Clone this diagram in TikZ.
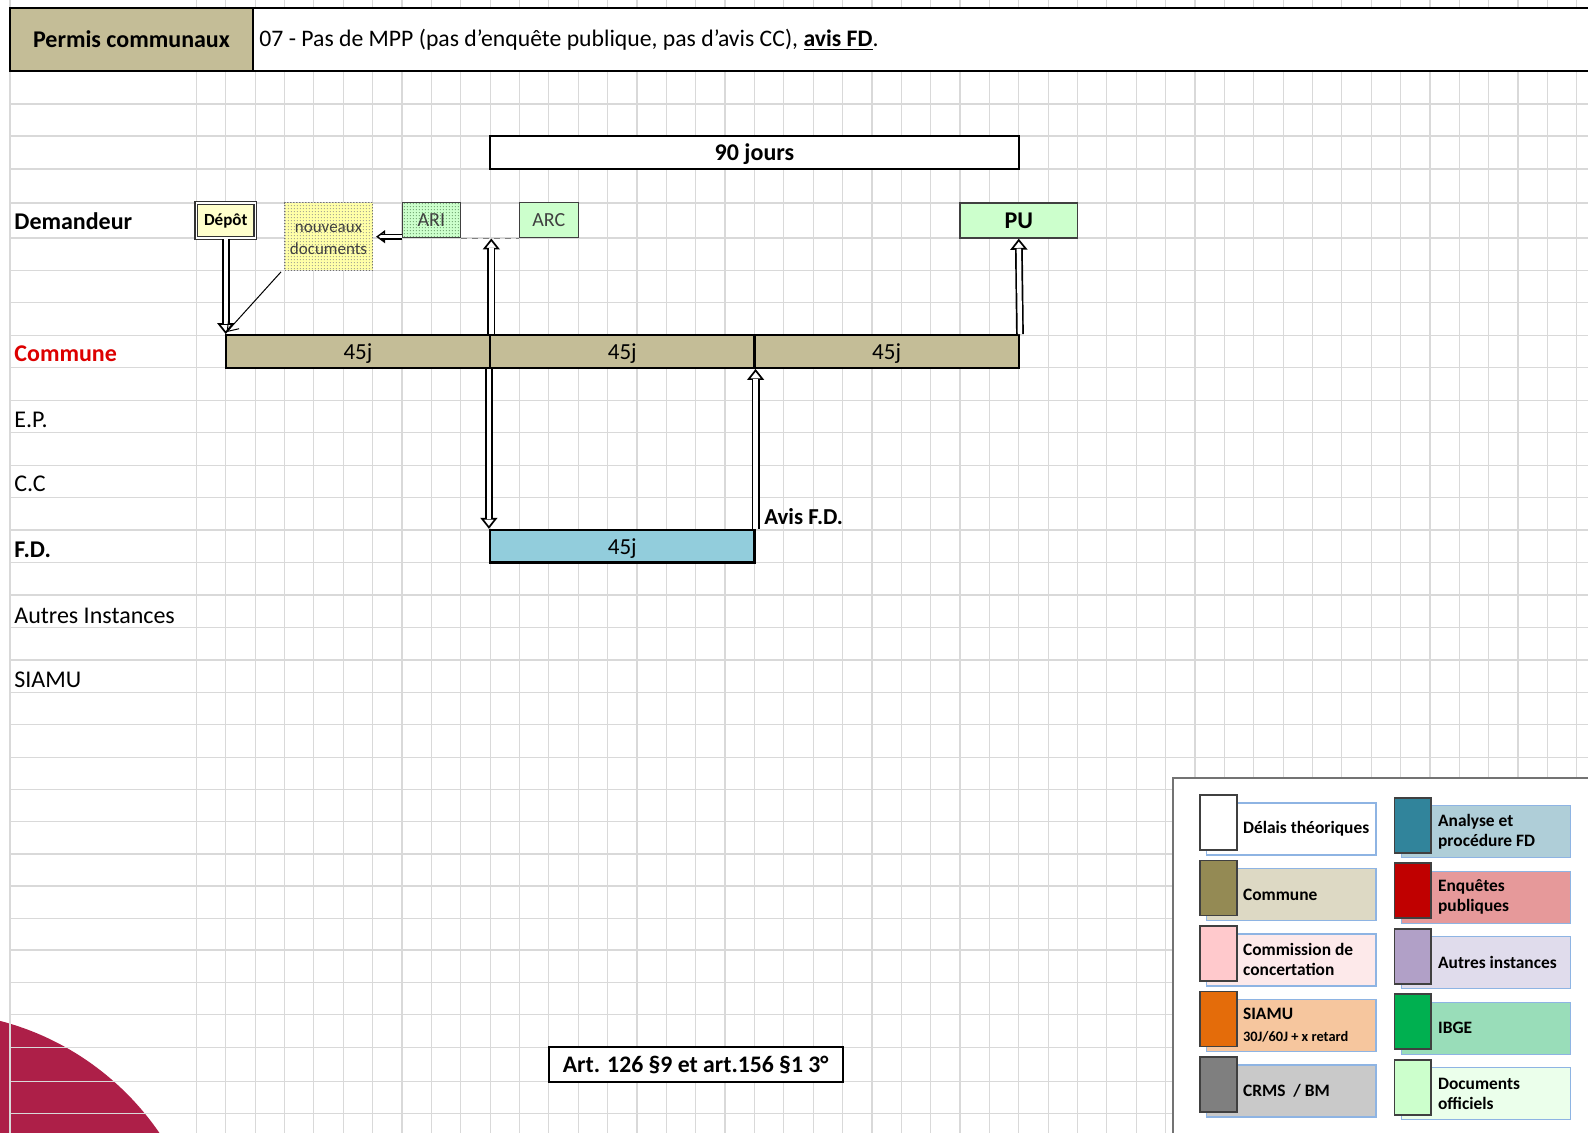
\documentclass[tikz,border=0pt]{standalone}
\usepackage{fontspec}
\setmainfont{Carlito}
\usetikzlibrary{arrows.meta,patterns}
\pgfdeclarepatternformonly{finedots}{\pgfqpoint{0pt}{0pt}}{\pgfqpoint{1.6pt}{1.6pt}}{\pgfqpoint{1.6pt}{1.6pt}}%
  {\pgfpathcircle{\pgfqpoint{0.8pt}{0.8pt}}{0.32pt}\pgfusepath{fill}}
\definecolor{cTan}{HTML}{C4BD97}
\definecolor{cFD}{HTML}{92CDDC}
\definecolor{cDoc}{HTML}{CCFFCC}
\definecolor{cDepot}{HTML}{FFFFCC}
\definecolor{cNew}{HTML}{FFFF99}
\definecolor{cGrid}{HTML}{D9D9D9}
\definecolor{cLogo}{HTML}{AD1F48}
\definecolor{cRedTxt}{HTML}{DD0000}
\definecolor{cLegBorder}{HTML}{8EB4E3}
\definecolor{sComm}{HTML}{948A54}\definecolor{lComm}{HTML}{DDD9C4}
\definecolor{sCC}{HTML}{FFC9CC}\definecolor{lCC}{HTML}{FDE9EA}
\definecolor{sSia}{HTML}{E46C0A}\definecolor{lSia}{HTML}{F6C69E}
\definecolor{sCrms}{HTML}{7F7F7F}\definecolor{lCrms}{HTML}{C9C9C9}
\definecolor{sFD}{HTML}{31849B}\definecolor{lFD}{HTML}{AFCED8}
\definecolor{sEP}{HTML}{C00000}\definecolor{lEP}{HTML}{E6999A}
\definecolor{sAI}{HTML}{B1A0C7}\definecolor{lAI}{HTML}{E0DCEC}
\definecolor{sIB}{HTML}{00B050}\definecolor{lIB}{HTML}{99DDB9}
\definecolor{sDO}{HTML}{CCFFCC}\definecolor{lDO}{HTML}{EBFFEB}
\begin{document}
\begin{tikzpicture}[x=0.5pt,y=-0.5pt,
  gridline/.style={draw=cGrid, line width=0.6pt},
  bar/.style={draw=black, line width=1.2pt, fill=cTan, inner sep=0pt, text depth=0pt,
    minimum width=132.15pt, minimum height=16.25pt, font=\fontsize{11.5}{13}\selectfont},
  rowlbl/.style={anchor=west, inner sep=0pt, font=\fontsize{12}{14}\selectfont},
  smallbox/.style={draw=black!75, line width=0.5pt, inner sep=0pt,
    minimum width=29.35pt, minimum height=17.5pt, font=\fontsize{10}{12}\selectfont},
  hollow/.style={draw=black, line width=0.85pt, -{Triangle[fill=white, length=5.5pt, width=8.5pt]},
    postaction={draw=black, -, line width=0.85pt, double=white, double distance=2.2pt, shorten >=5pt}},
  hollowsmall/.style={draw=black, line width=0.7pt, -{Triangle[fill=white, length=4.5pt, width=6.5pt]},
    postaction={draw=black, -, line width=0.7pt, double=white, double distance=1.5pt, shorten >=4pt}},
  swatch/.style={draw=black!75, line width=0.9pt, inner sep=0pt, minimum width=18.35pt, minimum height=27.5pt},
  legbox/.style={draw=cLegBorder, line width=0.6pt, inner sep=0pt, minimum width=84.6pt, minimum height=26pt},
  legtxt/.style={anchor=west, inner sep=0pt, align=left, font=\bfseries\fontsize{8.7}{10}\selectfont}
]
\useasboundingbox (0,0) rectangle (1588,1133);
\clip (0,0) rectangle (1588,1133);
\fill[white] (0,0) rectangle (1588,1133);
% logo
\fill[cLogo] (-70,1290) circle[radius=139pt];
% grid
\draw[gridline] (10,0) -- (10,1133);
\foreach \k in {0,...,47} \draw[gridline] ({196.4+29.37*\k},0) -- ++(0,1133);
\foreach \y in {104,136,169,203,238,270.4,302.9,335.3,367.8,400.2,432.7,465.1,497.6,530,562.5,595,627.4,659.9,692.3,724.8,757.2,789.7,821.7,854,886,918.3,950,982.3,1014.3,1047.3,1081.7,1113.3}
  \draw[gridline] (10,\y) -- (1588,\y);
% header
\fill[white] (253,8) rectangle (1588,71);
\draw[black, line width=0.6pt] (10,8) -- (1588,8);
\node[draw=black, line width=0.8pt, fill=cTan, inner sep=0pt, minimum width=121.5pt, minimum height=31.5pt,
  font=\bfseries\fontsize{12}{14}\selectfont] (hdrL) at (131.5,39.5) {Permis communaux};
\draw[black, line width=1.3pt] (10,71) -- (1588,71);
\node[anchor=west, inner sep=0pt, font=\fontsize{11.85}{14}\selectfont] (hdrT) at (259,39.5)
  {07 - Pas de MPP (pas d'enquête publique, pas d'avis CC), \textbf{\underline{avis FD}}.};
% row labels
\node[rowlbl, font=\bfseries\fontsize{12}{14}\selectfont] (lDem) at (14,221.5) {Demandeur};
\node[rowlbl, font=\bfseries\fontsize{12}{14}\selectfont, text=cRedTxt] (lCom) at (14,353.5) {Commune};
\node[rowlbl] (lEP) at (14,419.5) {E.P.};
\node[rowlbl] (lCC) at (14,483.5) {C.C};
\node[rowlbl, font=\bfseries\fontsize{12}{14}\selectfont] (lFD) at (14,550) {F.D.};
\node[rowlbl] (lAI) at (14,616) {Autres Instances};
\node[rowlbl] (lSI) at (14,680) {SIAMU};
% 90 jours
\node[draw=black, line width=0.7pt, fill=white, inner sep=0pt, minimum width=264.35pt, minimum height=16.5pt,
  text depth=0pt, font=\bfseries\fontsize{12}{14}\selectfont] (jours) at (754.45,152.5) {90 jours};
% demandeur row boxes
\node[draw=black!80, line width=0.8pt, double=white, double distance=0.6pt, fill=cDepot, inner sep=0pt,
  minimum width=29.5pt, minimum height=17.5pt, font=\bfseries\fontsize{8.5}{10}\selectfont] (depot) at (225.75,220.5) {Dépôt};
\node[draw=black!55, densely dotted, line width=0.5pt, fill=cNew!85!white, inner sep=0pt,
  minimum width=44.05pt, minimum height=33.7pt,
  postaction={pattern=finedots, pattern color=black!45}] (docs) at (328.55,236.7) {};
\node[inner sep=0pt, align=center, text=black!75, font=\fontsize{8.5}{11}\selectfont] (docsT)
  at ([yshift=-1.5pt]docs.center) {nouveaux\\documents};
\node[smallbox, fill=cDoc, postaction={pattern=finedots, pattern color=green!30!black!70}] (ari) at (431.35,220.5) {};
\node[inner sep=0pt, font=\fontsize{10}{12}\selectfont, text=black!75] (ariT) at (ari) {ARI};
\node[smallbox, fill=cDoc, text=black!75] (arc) at (548.85,220.5) {ARC};
\node[draw=black!75, line width=0.7pt, fill=cDoc, inner sep=0pt, minimum width=58.75pt, minimum height=17.5pt,
  font=\bfseries\fontsize{12}{14}\selectfont] (pu) at (1018.75,220.5) {PU};
% commune bar
\node[bar] (c1) at (357.95,351.55) {45j};
\node[bar] (c2) at (622.25,351.55) {45j};
\node[bar] (c3) at (886.6,351.55) {45j};
% FD bar
\node[bar, fill=cFD] (fd) at (622.25,546.25) {45j};
\node[anchor=west, inner sep=0pt, font=\bfseries\fontsize{11.4}{13}\selectfont] (avis) at (764,516.5) {Avis F.D.};
% article
\node[draw=black, line width=1pt, fill=white, inner sep=0pt, minimum width=146.85pt, minimum height=17.2pt,
  font=\bfseries\fontsize{11.85}{13}\selectfont] (art) at (695.65,1064.5) {Art. 126 §9 et art.156 §1 3°};
% connectors
\draw[gray, line width=0.6pt, dash pattern=on 3pt off 2.5pt] (ari.south east) -- (arc.south west);
\draw[hollow] (depot.south) -- (depot.south |- c1.north);
\draw[hollow] (c1.north east) -- (c1.north east |- ari.south);
\draw[hollowsmall, shorten >=1.5pt] (ari.west |- docs.east) -- (docs.east);
\draw[hollow] (c2.south west) -- (fd.north west);
\draw[hollow] (fd.north east) -- (c2.south east);
\draw[hollow] (c3.north east) -- (pu.south);
\draw[line width=0.5pt, -{Straight Barb[length=5pt,width=7pt]}] ([shift={(-3,1)}]docs.south west) -- ([shift={(2,-2)}]c1.north west);
% legend
\draw[draw=black!55, line width=1pt, fill=white] (1172.7,778.3) rectangle (1610,1150);
\foreach \i/\sc/\lc/\t in {0/white/white/{Délais théoriques},1/sComm/lComm/{Commune},2/sCC/lCC/{Commission de\\concertation},3/sSia/lSia/{SIAMU\\[1pt]{\fontsize{7.2}{8}\selectfont 30J/60J + x retard}},4/sCrms/lCrms/{CRMS~~/ BM}}{
  \node[legbox, fill=\lc] (lb\i) at (1291.35,{828.95+65.5*\i}) {};
  \node[swatch, fill=\sc] (sw\i) at (1218.35,{822.5+65.5*\i}) {};
  \node[legtxt] (lt\i) at (1242.7,{828.95+65.5*\i}) {\t};
}
\foreach \i/\sc/\lc/\t in {0/sFD/lFD/{Analyse et\\procédure FD},1/sEP/lEP/{Enquêtes\\publiques},2/sAI/lAI/{Autres instances},3/sIB/lIB/{IBGE},4/sDO/lDO/{Documents\\officiels}}{
  \node[legbox, fill=\lc] (rb\i) at (1486.2,{831.7+65.5*\i}) {};
  \node[swatch, fill=\sc] (rs\i) at (1412.85,{825.2+65.5*\i}) {};
  \node[legtxt] (rt\i) at (1437.7,{831.7+65.5*\i}) {\t};
}
\end{tikzpicture}
\end{document}
